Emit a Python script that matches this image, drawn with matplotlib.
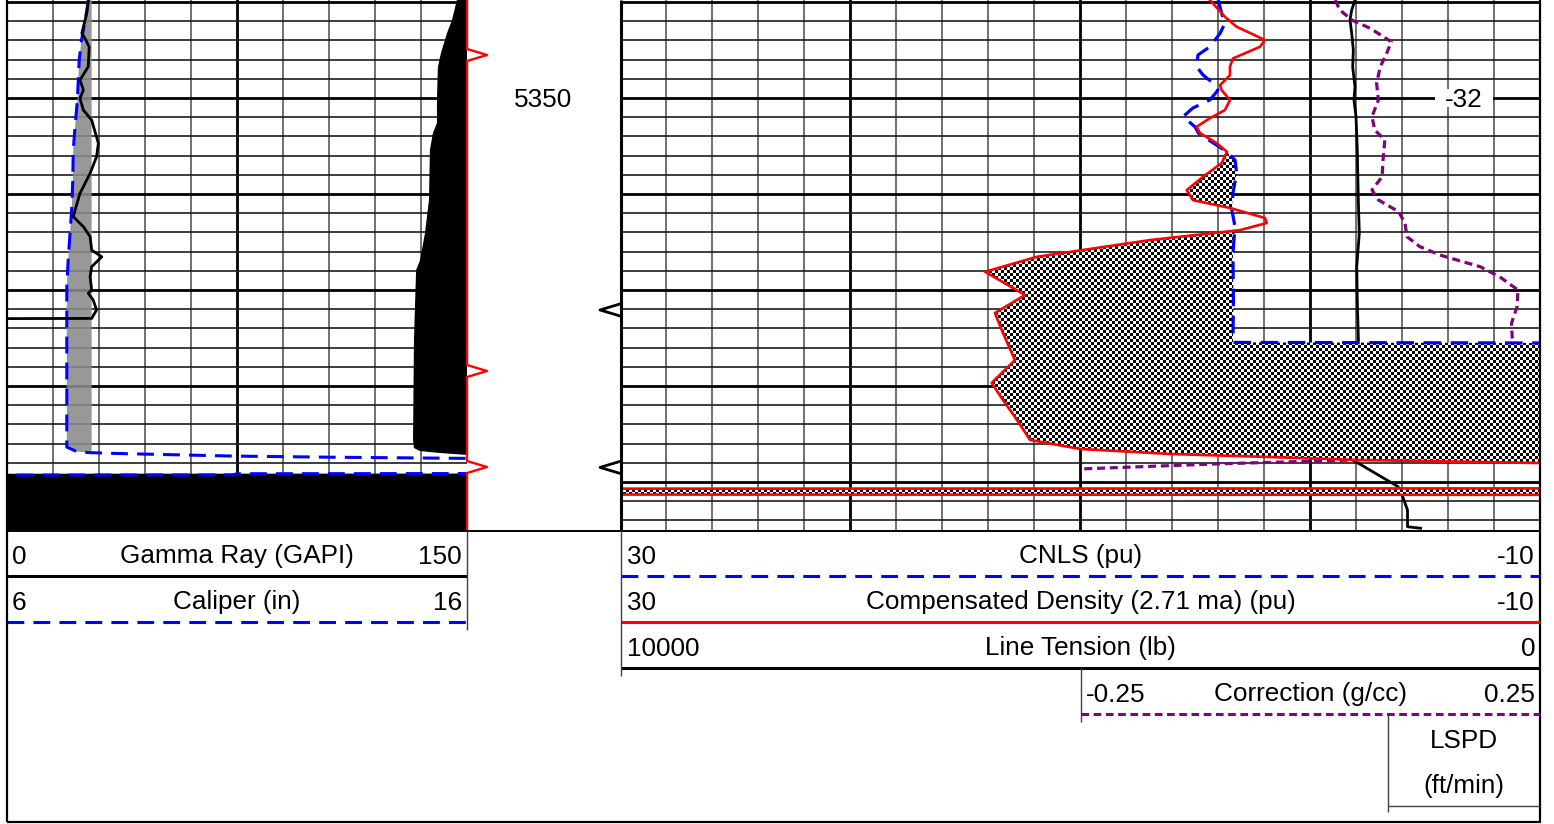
import numpy as np
import matplotlib
matplotlib.use("Agg")
import matplotlib.pyplot as plt
from matplotlib.path import Path
from matplotlib.patches import PathPatch, Rectangle
from matplotlib.colors import ListedColormap

plt.rcParams["font.family"] = ["Liberation Sans", "DejaVu Sans"]
plt.rcParams["font.size"] = 18.8

# ---------------------------------------------------------------- log data
# Gamma ray (GAPI)
gr_depth = [5344.90, 5345.59, 5346.63, 5346.89, 5347.33, 5348.37, 5349.06, 5349.58,
            5350.02, 5350.63, 5351.15, 5352.36, 5353.06, 5353.92, 5354.62, 5354.96,
            5356.18, 5356.70, 5357.22, 5357.92, 5358.27, 5358.79, 5359.31, 5360.00,
            5360.17, 5360.52, 5361.04, 5361.48, 5361.49]
gr_api = [26.5, 26.0, 24.4, 25.4, 26.8, 26.5, 23.8, 24.9, 23.8, 24.9, 27.6, 29.8, 29.2,
          27.1, 24.9, 23.8, 21.6, 24.9, 27.1, 27.6, 30.9, 27.6, 27.1, 27.6, 26.5, 28.1,
          29.2, 27.6, 0.0]

# Caliper (in) and bit size
cal_depth = [5344.90, 5345.94, 5346.98, 5348.02, 5349.06, 5350.10, 5351.49, 5352.71,
             5354.27, 5355.66, 5357.05, 5358.44, 5359.83, 5368.18, 5368.42, 5368.47,
             5368.51, 5368.65, 5368.71, 5368.77, 5369.17, 5369.56, 5369.57, 5369.63,
             5369.64, 5369.65, 5372.50]
cal_in = [7.77, 7.70, 7.62, 7.57, 7.55, 7.53, 7.48, 7.44, 7.43, 7.41, 7.37, 7.33, 7.30,
          7.30, 7.52, 7.80, 8.31, 10.92, 13.09, 15.99, 17.0, 16.0, 11.0, 10.9, 6.0, 5.0, 5.0]
bit_size_in = 7.84

# Shaded background curve in the gamma-ray track (GAPI scale)
shade_depth = [5344.90, 5345.94, 5346.61, 5347.66, 5348.39, 5350.10, 5351.30, 5351.82,
               5352.71, 5355.31, 5357.03, 5358.44, 5358.96, 5362.60, 5367.81, 5368.23,
               5368.39, 5368.49, 5368.59, 5368.65, 5369.56, 5369.57, 5372.50]
shade_api = [146.7, 145.1, 143.5, 141.5, 140.5, 140.2, 140.2, 138.9, 137.9, 137.6, 136.3,
             134.7, 133.4, 132.7, 132.4, 132.7, 134.7, 141.2, 150.0, 160.0, 160.0, -10.0, -10.0]

# Neutron porosity CNLS (pu)
cnl_depth = [5344.90, 5345.59, 5346.11, 5346.63, 5347.33, 5347.76, 5348.37, 5348.80,
             5349.22, 5349.59, 5350.10, 5350.52, 5350.97, 5351.50, 5351.83, 5352.19,
             5352.80, 5353.23, 5353.91, 5354.95, 5355.83, 5356.70, 5358.07, 5360.52,
             5362.73, 5362.77, 5372.50]
cnl_pu = [3.99, 3.84, 3.70, 3.91, 4.35, 4.87, 4.93, 4.65, 4.22, 4.00, 4.35, 5.09, 5.52,
          5.00, 4.85, 4.40, 3.62, 3.26, 3.19, 3.35, 3.40, 3.26, 3.35, 3.33, 3.35, -15.0, -15.0]

# Compensated density porosity, 2.71 matrix (pu)
den_depth = [5344.90, 5345.77, 5346.29, 5346.98, 5347.33, 5347.94, 5348.37, 5348.81,
             5349.33, 5349.59, 5350.11, 5350.63, 5351.05, 5351.50, 5351.83, 5352.35,
             5352.80, 5353.39, 5354.10, 5354.80, 5355.32, 5355.73, 5356.25, 5356.51,
             5356.88, 5357.40, 5358.27, 5359.05, 5360.26, 5361.20, 5362.24, 5363.65,
             5364.84, 5365.73, 5366.61, 5367.81, 5368.28, 5368.54, 5368.70, 5368.85,
             5369.01, 5369.12, 5370.33, 5370.35, 5370.65, 5370.67, 5372.50]
den_pu = [4.35, 3.70, 3.19, 1.96, 2.17, 3.35, 3.48, 3.48, 3.91, 3.84, 3.48, 3.70, 4.35,
          4.93, 4.78, 4.06, 3.61, 3.84, 4.65, 5.36, 5.09, 3.48, 1.96, 1.88, 3.04, 6.96,
          11.87, 14.13, 12.39, 13.70, 13.35, 12.83, 13.84, 13.35, 12.83, 12.17, 10.0,
          6.09, 1.74, -2.0, -9.9, -20.0, -20.0, 40.0, 40.0, -20.0, -20.0]

# Line tension (lb)
ten_depth = [5344.90, 5345.42, 5345.94, 5346.61, 5347.50, 5348.39, 5349.41, 5350.10,
             5350.97, 5352.71, 5355.31, 5357.03, 5358.80, 5360.52, 5362.60, 5365.04,
             5368.68, 5368.85, 5370.24, 5370.59, 5371.46, 5372.33, 5372.41]
ten_lb = [2011, 2047, 2065, 2047, 2029, 2036, 2011, 2022, 2000, 1986, 1975, 1964, 1992,
          1986, 1974, 2036, 2015, 2036, 1543, 1505, 1440, 1440, 1297]

# Density correction (g/cc)
corr_depth = [5344.90, 5345.42, 5345.94, 5346.37, 5347.07, 5347.67, 5348.37, 5349.23,
              5350.10, 5350.97, 5351.67, 5352.19, 5353.23, 5354.10, 5354.79, 5355.31,
              5355.92, 5356.53, 5357.22, 5357.74, 5358.18, 5358.79, 5359.31, 5360.00,
              5360.87, 5361.73, 5362.78, 5365.73, 5368.33, 5368.75, 5368.85, 5369.06,
              5369.32, 5369.37, 5372.50]
corr_gcc = [0.027, 0.032, 0.045, 0.065, 0.088, 0.083, 0.076, 0.072, 0.074, 0.067, 0.070,
            0.081, 0.079, 0.078, 0.067, 0.074, 0.096, 0.103, 0.105, 0.119, 0.141, 0.185,
            0.206, 0.226, 0.225, 0.219, 0.220, 0.215, 0.200, 0.120, 0.050, -0.104,
            -0.250, -0.300, -0.300]

# Line speed annotation (ft/min)
lspd_depth = [5350.0]
lspd_fpm = [-32]

# Depth annotations
depth_labels = [5350]
red_mark_depth = [5347.76, 5364.22, 5369.22]
black_mark_depth = [5361.04, 5369.24]

# Track scales (left value, right value)
gr_scale = (0, 150)
cal_scale = (6, 16)
por_scale = (30, -10)
ten_scale = (10000, 0)
corr_scale = (-0.25, 0.25)

# ---------------------------------------------------------------- layout
W, H, DPI = 1554, 824, 100
PX_PER_FT = 19.2
REF_DEPTH, REF_Y = 5350.0, 98.0
TRACK_BOTTOM = 530.0
D_TOP = REF_DEPTH - REF_Y / PX_PER_FT
D_BOT = REF_DEPTH + (TRACK_BOTTOM - REF_Y) / PX_PER_FT
L_X0, L_X1 = 7, 467
R_X0, R_X1 = 620, 1540
CORR_X0 = 1081
LSPD_X0 = 1388
ROW_H = 46
CELL = 3  # checker cell size in pixels

BLUE, RED, PURPLE = "#0000ff", "#ff0000", "#800080"
TXT = "black"
DASH = (5.5, 3.0)
SHORT_DASH = (2.5, 1.5)

fig = plt.figure(figsize=(W / DPI, H / DPI), dpi=DPI)
fig.patch.set_facecolor("white")


def px_axes(x0, x1, y0, y1, z=1):
    ax = fig.add_axes([x0 / W, 1 - y1 / H, (x1 - x0) / W, (y1 - y0) / H], zorder=z)
    ax.set_xlim(0, 1)
    ax.set_ylim(D_BOT, D_TOP)
    ax.axis("off")
    return ax


def norm(vals, scale):
    lo, hi = scale
    return (np.asarray(vals, dtype=float) - lo) / (hi - lo)


def draw_grid(ax, n_div, major_every):
    for k in range(1, n_div):
        major = k % major_every == 0
        ax.axvline(k / n_div, color="black" if major else "#6a6a6a",
                   lw=2.0 if major else 1.35, zorder=1)
    for d in range(int(np.ceil(D_TOP)), int(np.floor(D_BOT)) + 1):
        major = d % 5 == 0
        ax.axhline(d, color="black" if major else "#1c1c1c",
                   lw=2.0 if major else 1.2, zorder=1)


def checker_fill(ax, depth, xa, xb, where, w_px, h_px, zorder):
    coll = ax.fill_betweenx(depth, xa, xb, where=where, interpolate=True,
                            facecolor="none", edgecolor="none", lw=0)
    region = Path.make_compound_path(*coll.get_paths())
    coll.remove()
    clip = PathPatch(region, transform=ax.transData)
    nx = int(np.ceil(w_px / CELL))
    ny = int(np.ceil(h_px / CELL))
    board = np.indices((ny, nx)).sum(axis=0) % 2
    im = ax.imshow(board, cmap=ListedColormap(["white", "black"]),
                   extent=(0, nx * CELL / w_px, D_TOP + ny * CELL / PX_PER_FT, D_TOP),
                   aspect="auto", interpolation="nearest", zorder=zorder)
    im.set_clip_path(clip)
    ax.set_xlim(0, 1)
    ax.set_ylim(D_BOT, D_TOP)


d_fine = np.arange(D_TOP, D_BOT + 0.0025, 0.0025)

# ---------------------------------------------------------------- gamma-ray track
ax_l = px_axes(L_X0, L_X1, 0, TRACK_BOTTOM)
draw_grid(ax_l, 10, 5)

cal_f = np.interp(d_fine, cal_depth, cal_in)
bit_x = norm(bit_size_in, cal_scale)
ax_l.fill_betweenx(d_fine, norm(cal_f, cal_scale), bit_x, where=cal_f < bit_size_in,
                   interpolate=True, facecolor="#8a8a8a", edgecolor="none", alpha=0.88, zorder=2)

shade_f = np.clip(np.interp(d_fine, shade_depth, shade_api), gr_scale[0], gr_scale[1])
ax_l.fill_betweenx(d_fine, norm(shade_f, gr_scale), 1.0, facecolor="black",
                   edgecolor="none", zorder=3)

ax_l.plot(norm(cal_in, cal_scale), cal_depth, color=BLUE, lw=2.2, dashes=DASH, zorder=4)
ax_l.plot(norm(gr_api, gr_scale), gr_depth, color="black", lw=2.0, zorder=5)

# ---------------------------------------------------------------- depth track
ax_d = px_axes(L_X1, R_X0, 0, TRACK_BOTTOM, z=2)
d_w = R_X0 - L_X1
half = 6 / PX_PER_FT
xs, ys = [0.0], [D_TOP]
for m in red_mark_depth:
    xs += [0.0, 20 / d_w, 0.0]
    ys += [m - half, m, m + half]
xs.append(0.0)
ys.append(D_BOT)
ax_d.plot(xs, ys, color=RED, lw=1.7, clip_on=False, zorder=5)
for m in black_mark_depth:
    ax_d.plot([1.0, 1.0 - 20 / d_w, 1.0], [m - half, m, m + half], color="black",
              lw=2.0, clip_on=False, zorder=5)
for d in depth_labels:
    ax_d.text(0.5, d + 0.48, f"{d}", ha="center", va="baseline", color=TXT)

# ---------------------------------------------------------------- porosity track
ax_r = px_axes(R_X0, R_X1, 0, TRACK_BOTTOM)
draw_grid(ax_r, 20, 5)

ax_r.plot(norm(ten_lb, ten_scale), ten_depth, color="black", lw=2.0, zorder=2)

corr_x = (CORR_X0 - R_X0) / (R_X1 - R_X0)
corr_line, = ax_r.plot(corr_x + (1 - corr_x) * norm(corr_gcc, corr_scale), corr_depth,
                       color=PURPLE, lw=2.3, dashes=SHORT_DASH, zorder=2)
corr_line.set_clip_path(Rectangle((corr_x, D_TOP), 1 - corr_x, D_BOT - D_TOP,
                                  transform=ax_r.transData))

den_f = np.interp(d_fine, den_depth, den_pu)
cnl_f = np.interp(d_fine, cnl_depth, cnl_pu)
crossover = (den_f > cnl_f) & (d_fine > 5345.5)
checker_fill(ax_r, d_fine, norm(den_f, por_scale), norm(cnl_f, por_scale), crossover,
             R_X1 - R_X0, TRACK_BOTTOM, zorder=3)

ax_r.plot(norm(cnl_pu, por_scale), cnl_depth, color=BLUE, lw=2.3, dashes=DASH, zorder=4)
ax_r.plot(norm(den_pu, por_scale), den_depth, color=RED, lw=1.9, zorder=5)

lspd_x = ((LSPD_X0 + R_X1) / 2 - R_X0) / (R_X1 - R_X0)
for d, v in zip(lspd_depth, lspd_fpm):
    ax_r.add_patch(Rectangle((lspd_x - 29 / (R_X1 - R_X0), d - 0.45),
                             58 / (R_X1 - R_X0), 0.9, facecolor="white",
                             edgecolor="none", zorder=6))
    ax_r.text(lspd_x, d + 0.48, f"{v}", ha="center", va="baseline", color=TXT, zorder=7)

# ---------------------------------------------------------------- header and frame
hdr = fig.add_axes([0, 0, 1, 1], zorder=10)
hdr.set_xlim(0, W)
hdr.set_ylim(H, 0)
hdr.axis("off")


def hline(x0, x1, y, **kw):
    hdr.plot([x0, x1], [y, y], solid_capstyle="butt", dash_capstyle="butt", **kw)


def vline(x, y0, y1, **kw):
    hdr.plot([x, x], [y0, y1], solid_capstyle="butt", **kw)


thin = dict(color="#404040", lw=1.0)
frame = dict(color="black", lw=1.6)

vline(L_X0, 0, 822, **frame)
vline(R_X1, 0, 822, **frame)
hline(L_X0, R_X1 + 1, 822, **frame)
hline(L_X0, R_X1, TRACK_BOTTOM + 0.5, color="black", lw=1.4)
vline(R_X0 + 0.5, 0, TRACK_BOTTOM, color="black", lw=2.2)

left_rows = [
    ("Gamma Ray (GAPI)", gr_scale, dict(color="black", lw=2.2)),
    ("Caliper (in)", cal_scale, dict(color=BLUE, lw=2.2, dashes=DASH)),
]
right_rows = [
    ("CNLS (pu)", por_scale, dict(color=BLUE, lw=2.2, dashes=DASH)),
    ("Compensated Density (2.71 ma) (pu)", por_scale, dict(color=RED, lw=2.2)),
    ("Line Tension (lb)", ten_scale, dict(color="black", lw=2.2)),
]


def header_row(x0, x1, row, title, scale, style, pad_left=5):
    top = TRACK_BOTTOM + row * ROW_H
    base = top + 33.5
    hdr.text(x0 + pad_left, base, f"{scale[0]:g}", ha="left", va="baseline", color=TXT)
    hdr.text((x0 + x1) / 2, base, title, ha="center", va="baseline", color=TXT)
    hdr.text(x1 - 5, base, f"{scale[1]:g}", ha="right", va="baseline", color=TXT)
    hline(x0, x1, top + ROW_H, **style)


for i, (title, scale, style) in enumerate(left_rows):
    header_row(L_X0, L_X1, i, title, scale, style)
vline(L_X1, TRACK_BOTTOM, TRACK_BOTTOM + len(left_rows) * ROW_H + 8, **thin)

for i, (title, scale, style) in enumerate(right_rows):
    header_row(R_X0 + 1, R_X1, i, title, scale, style, pad_left=6)
vline(R_X0 + 1, TRACK_BOTTOM, TRACK_BOTTOM + len(right_rows) * ROW_H + 8, **thin)

corr_row = len(right_rows)
header_row(CORR_X0, R_X1, corr_row, "Correction (g/cc)", corr_scale,
           dict(color=PURPLE, lw=2.2, dashes=SHORT_DASH))
vline(CORR_X0, TRACK_BOTTOM + corr_row * ROW_H, TRACK_BOTTOM + (corr_row + 1) * ROW_H + 8, **thin)

lspd_top = TRACK_BOTTOM + (corr_row + 1) * ROW_H
hdr.text((LSPD_X0 + R_X1) / 2, lspd_top + 34, "LSPD", ha="center", va="baseline", color=TXT)
hdr.text((LSPD_X0 + R_X1) / 2, lspd_top + ROW_H + 33.5, "(ft/min)", ha="center",
         va="baseline", color=TXT)
vline(LSPD_X0, lspd_top, lspd_top + 2 * ROW_H + 6, **thin)
hline(LSPD_X0, R_X1, lspd_top + 2 * ROW_H, **thin)

fig.savefig("out.png", dpi=DPI)
